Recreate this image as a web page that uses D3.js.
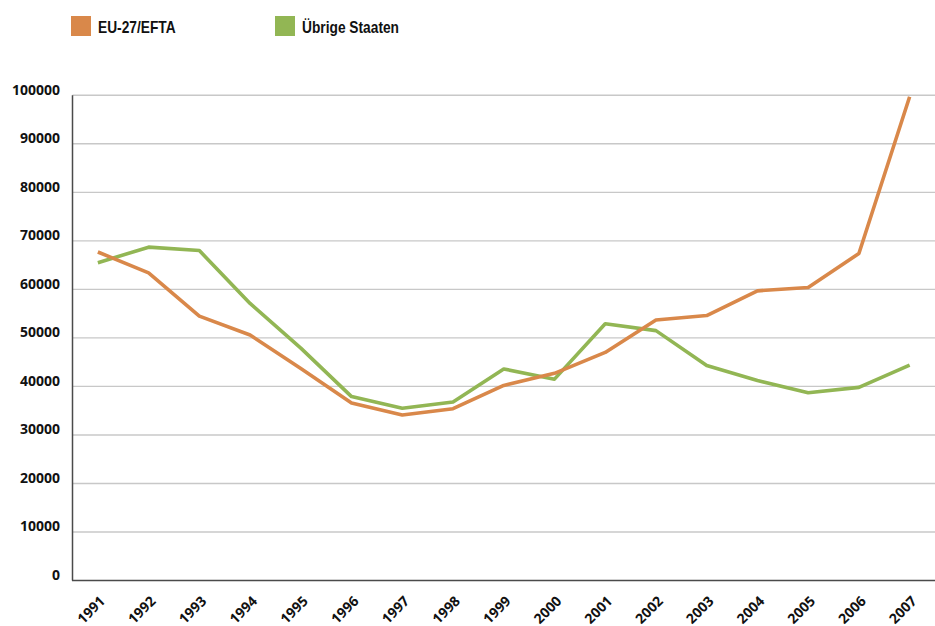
<!DOCTYPE html>
<html><head><meta charset="utf-8">
<script src="https://cdn.jsdelivr.net/npm/d3@7"></script>
<style>
html,body{margin:0;padding:0;background:#fff;}
svg{display:block;}
</style></head>
<body>
<svg id="chart" width="935" height="626"></svg>
<script>
const years = ["1991","1992","1993","1994","1995","1996","1997","1998","1999","2000","2001","2002","2003","2004","2005","2006","2007"];
const euEfta = [67700,63400,54500,50600,43700,36600,34100,35400,40200,42700,47000,53700,54600,59700,60400,67400,99700];
const uebrige = [65500,68700,68000,57100,47900,37900,35500,36800,43600,41500,52900,51500,44300,41200,38700,39800,44400];
const seriesNames = ["EU-27/EFTA","Übrige Staaten"];
const seriesColors = ["#D9884A","#92B654"];
const yTicks = [0,10000,20000,30000,40000,50000,60000,70000,80000,90000,100000];

const svg = d3.select("#chart");
const mLeft = 72.5, mRight = 935, mTop = 95.3, mBottom = 580.5;

const x = d3.scalePoint().domain(years).range([mLeft, mRight]).padding(0.5);
const y = d3.scaleLinear().domain([0,100000]).range([mBottom, mTop]);

const labelFont = "'Open Sans', 'Noto Sans', sans-serif";

// gridlines
svg.append("g").selectAll("line").data(yTicks.filter(d=>d>0)).join("line")
  .attr("x1", mLeft).attr("x2", mRight)
  .attr("y1", d=>y(d)).attr("y2", d=>y(d))
  .attr("stroke", "#c8c8c8").attr("stroke-width", 1.4);

// y labels
svg.append("g").selectAll("text").data(yTicks).join("text")
  .attr("x", 60).attr("y", d=>y(d) - 0.5)
  .attr("text-anchor","end")
  .attr("font-family", labelFont)
  .attr("font-weight","bold").attr("font-size", 14)
  .attr("fill","#111")
  .text(d=>d);

// axes lines
svg.append("line").attr("x1",mLeft).attr("x2",mLeft).attr("y1",mTop).attr("y2",mBottom)
  .attr("stroke","#4a4a4a").attr("stroke-width",1.5);
svg.append("line").attr("x1",mLeft-0.5).attr("x2",mRight).attr("y1",mBottom).attr("y2",mBottom)
  .attr("stroke","#4a4a4a").attr("stroke-width",1.5);

// x labels
svg.append("g").selectAll("text").data(years).join("text")
  .attr("transform", d=>`translate(${x(d)+8},602) rotate(-45)`)
  .attr("text-anchor","end")
  .attr("font-family", labelFont)
  .attr("font-weight","bold").attr("font-size", 14)
  .attr("fill","#111")
  .text(d=>d);

// lines
const line = d3.line().x((d,i)=>x(years[i])).y(d=>y(d));
[uebrige, euEfta].forEach((vals, k) => {
  const ci = k===0 ? 1 : 0;
  svg.append("path").datum(vals)
    .attr("d", line)
    .attr("fill","none")
    .attr("stroke", seriesColors[ci])
    .attr("stroke-width", 3.6)
    .attr("stroke-linejoin","round");
});

// legend
const legX = [71, 275];
const lg = svg.append("g").selectAll("g").data(seriesNames).join("g")
  .attr("transform",(d,i)=>`translate(${legX[i]},16)`);
lg.append("rect").attr("width",20).attr("height",20).attr("fill",(d,i)=>seriesColors[i]);
lg.append("text")
  .attr("transform","translate(27,16.5) scale(0.86,1)")
  .attr("font-family","'Liberation Sans', Arial, sans-serif")
  .attr("font-weight","bold").attr("font-size",16)
  .attr("fill","#111")
  .text(d=>d);
</script>
</body></html>
